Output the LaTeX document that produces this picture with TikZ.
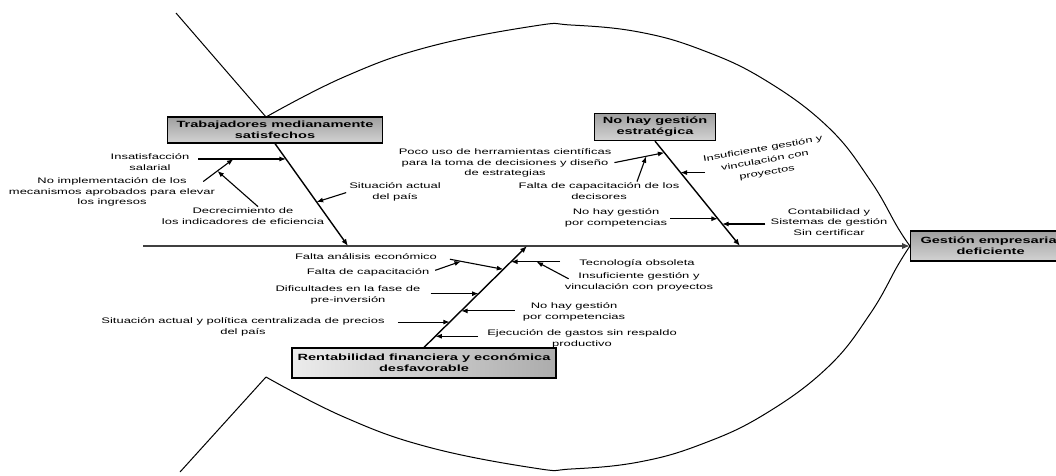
\documentclass[tikz,border=0pt]{standalone}
\usepackage{fontspec}
\usetikzlibrary{arrows.meta,calc}
\newfontfamily\lblfam[FakeStretch=1.62]{Liberation Sans}

\tikzset{
  lbl/.style={font=\lblfam\fontsize{8}{10.5}\selectfont, align=center, inner sep=1pt},
  cause/.style={draw, line width=1.2pt, top color=gray!75, bottom color=gray!35,
    font=\lblfam\bfseries\fontsize{9}{11}\selectfont, align=center, inner sep=2pt},
  arr/.style={line width=1.1pt, -{Latex[length=6.5pt,width=5pt]}},
  bone/.style={line width=1.4pt, -{Latex[length=7pt,width=5.5pt]}},
  fish/.style={line width=1pt}
}

\begin{document}
\begin{tikzpicture}[x=1pt,y=-1pt]
\useasboundingbox (0,0) rectangle (1056,475);
\clip (0,0) rectangle (1056,475);

\draw[fish] (176,13) -- (266,117);
\draw[fish] plot[smooth, tension=.7] coordinates {(266,117) (344,77) (428,47) (534,26) (571,25) (639,32) (702,50) (765,80) (828,127) (870,180) (898,228) (910,246)};
\draw[fish] (180,472) -- (266,377);
\draw[fish] plot[smooth, tension=.7] coordinates {(266,377) (344,417) (428,447) (534,468) (571,469) (639,462) (702,444) (765,414) (828,367) (870,314) (898,265) (910,246)};

\node[cause, minimum width=215pt, minimum height=26pt] (trab) at (275,130) {Trabajadores medianamente\\satisfechos};
\node[cause, minimum width=121pt, minimum height=27pt] (estr) at (655,127) {No hay gestión\\estratégica};
\node[cause, minimum width=264pt, minimum height=30pt, left color=gray!15, right color=gray!65] (rent) at (424,363) {Rentabilidad financiera y económica\\desfavorable};
\node[cause, minimum width=160pt, minimum height=30pt, anchor=west, fill=gray!60] (gest) at (910,246) {Gestión empresarial\\deficiente};

\coordinate (cola) at (143,246);
\draw[line width=1.8pt, black!75, -{Latex[length=8pt,width=6.5pt]}] (cola) -- (gest.west);

\coordinate (e1) at (348,246);
\coordinate (e2) at (740,246);
\coordinate (e3) at (527,246);
\draw[bone] (trab.south) -- (e1);
\draw[bone] (estr.south) -- (e2);
\draw[bone] (rent.north) -- (e3);

% trabajadores
\coordinate (t11) at ($(trab.south)!0.15!(e1)$);
\coordinate (t14) at ($(trab.south)!0.57!(e1)$);
\node[lbl] (ins) at (150,162) {Insatisfacción\\salarial};
\node[lbl] (noimp) at (112,192) {No implementación de los\\mecanismos aprobados para elevar\\los ingresos};
\node[lbl] (decr) at (243,216) {Decrecimiento de\\los indicadores de eficiencia};
\node[lbl] (sit1) at (395,192) {Situación actual\\del país};
\draw[arr, shorten <=8pt] (ins.east |- t11) -- (t11);
\coordinate (t12) at ($(ins.east |- t11)!0.45!(t11)$);
\coordinate (s12) at ([xshift=-13pt,yshift=-5pt]noimp.north east);
\draw[arr] (s12) -- (t12);
\coordinate (t13) at ($(s12)!0.47!(t12)$);
\draw[arr] ([xshift=15pt]decr.north) -- (t13);
\draw[arr, shorten <=2pt] (sit1.west) -- (t14);

% estrategica
\coordinate (t21) at ($(estr.south)!0.11!(e2)$);
\coordinate (t23) at ($(estr.south)!0.30!(e2)$);
\coordinate (t24) at ($(estr.south)!0.74!(e2)$);
\coordinate (t25) at ($(estr.south)!0.79!(e2)$);
\node[lbl] (poco) at (505,163) {Poco uso de herramientas científicas\\para la toma de decisiones y diseño\\de estrategias};
\node[lbl] (dec) at (599,191) {Falta de capacitación de los\\decisores};
\node[lbl, rotate=10, font=\lblfam\fontsize{8}{12}\selectfont] (insu) at (765,161) {Insuficiente gestión y\\vinculación con\\proyectos};
\node[lbl] (comp2) at (616,218) {No hay gestión\\por competencias};
\node[lbl] (cont) at (829,222) {Contabilidad y\\Sistemas de gestión\\Sin certificar};
\draw[arr, shorten <=2pt] (poco.east) -- (t21);
\coordinate (t22) at ($(poco.east)!0.65!(t21)$);
\draw[arr] ([xshift=38pt]dec.north) -- (t22);
\draw[arr, shorten <=2pt] (insu.south west |- t23) -- (t23);
\draw[arr, shorten <=2pt] (comp2.east |- t24) -- (t24);
\draw[arr, shorten <=4pt] (cont.west |- t25) -- (t25);

% rentabilidad
\coordinate (t31) at ($(rent.north)!0.77!(e3)$);
\coordinate (t33) at ($(rent.north)!0.53!(e3)$);
\coordinate (t34) at ($(rent.north)!0.36!(e3)$);
\coordinate (t35) at ($(rent.north)!0.25!(e3)$);
\coordinate (t36) at ($(rent.north)!0.845!(e3)$);
\coordinate (t38) at ($(rent.north)!0.11!(e3)$);
\node[lbl] (fae) at (366,257) {Falta análisis económico};
\node[lbl] (fca) at (368,272) {Falta de capacitación};
\node[lbl] (dif) at (348,295) {Dificultades en la fase de\\pre-inversión};
\node[lbl] (sitp) at (243,327) {Situación actual y política centralizada de precios\\del país};
\node[lbl] (tec) at (637,263) {Tecnología obsoleta};
\node[lbl] (ins3) at (639,282) {Insuficiente gestión y\\vinculación con proyectos};
\node[lbl] (comp3) at (574,312) {No hay gestión\\por competencias};
\node[lbl] (eje) at (582,339) {Ejecución de gastos sin respaldo\\productivo};
\draw[arr, shorten <=12pt] (fae.east) -- (t31);
\coordinate (t32) at ($(fae.east)!0.35!(t31)$);
\draw[arr, shorten <=5pt] (fca.east) -- (t32);
\draw[arr, shorten <=9pt] (dif.east |- t33) -- (t33);
\draw[arr, shorten <=7pt] (comp3.west |- t34) -- (t34);
\draw[arr, shorten <=12pt] (sitp.east |- t35) -- (t35);
\draw[arr, shorten <=18pt] (tec.west |- t36) -- (t36);
\coordinate (t37) at ($(tec.west |- t36)!0.62!(t36)$);
\draw[arr] ([xshift=5pt,yshift=-7pt]ins3.north west) -- (t37);
\draw[arr, shorten <=8pt] (eje.west |- t38) -- (t38);
\end{tikzpicture}
\end{document}
